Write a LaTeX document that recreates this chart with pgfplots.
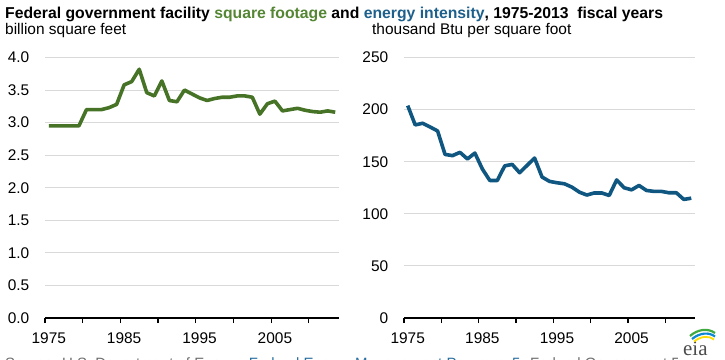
\documentclass[border=0pt]{standalone}
\usepackage{pgfplots}
\pgfplotsset{compat=1.18}
\usepackage{fontspec}
\setmainfont{Liberation Sans}
\setsansfont{Liberation Sans}
\newfontfamily\eiafont{Liberation Serif}
\definecolor{linegreen}{RGB}{70,115,38}
\definecolor{lineblue}{RGB}{15,86,128}
\definecolor{titlegreen}{RGB}{84,134,52}
\definecolor{titleblue}{RGB}{30,96,140}
\definecolor{gridgray}{RGB}{217,217,217}
\definecolor{srcgray}{RGB}{110,110,110}
\definecolor{srcblue}{RGB}{40,110,160}
\pgfplotsset{
  eiastyle/.style={
    scale only axis,
    anchor=south west,
    axis x line*=bottom,
    axis y line*=left,
    y axis line style={draw=none},
    x axis line style={black, line width=1.3bp},
    xmin=1974.5, xmax=2013.5,
    xtick={1975,1985,1995,2005},
    xticklabels={1975,1985,1995,2005},
    major x tick style={draw=none},
    minor xtick={1974.5,1979.5,1984.5,1989.5,1994.5,1999.5,2004.5,2009.5},
    minor tick length=5bp,
    minor x tick style={black, line width=1.3bp},
    tick align=outside,
    ytick style={draw=none},
    ymajorgrids,
    grid style={gridgray, line width=1bp},
    ticklabel style={font=\fontsize{15.5}{18}\selectfont, text=black},
    /pgf/number format/assume math mode=true,
    yticklabel style={xshift=-8bp},
    xticklabel style={yshift=-7bp},
    clip=false,
  }
}
\begin{document}
\begin{tikzpicture}
\useasboundingbox (0bp,0bp) rectangle (725bp,360bp);
% left panel
\begin{axis}[eiastyle,
  at={(45bp,42bp)}, width=294bp, height=260.5bp,
  ymin=0, ymax=4,
  ytick={0,0.5,1,1.5,2,2.5,3,3.5,4},
  yticklabel style={/pgf/number format/.cd, fixed, precision=1, zerofill},
]
\addplot[linegreen, line width=3.6bp, line join=round] coordinates {
(1975,2.95)(1976,2.95)(1977,2.95)(1978,2.95)(1979,2.95)
(1980,3.20)(1981,3.20)(1982,3.20)(1983,3.23)(1984,3.28)
(1985,3.58)(1986,3.63)(1987,3.82)(1988,3.46)(1989,3.41)
(1990,3.64)(1991,3.34)(1992,3.32)(1993,3.50)(1994,3.44)
(1995,3.38)(1996,3.34)(1997,3.37)(1998,3.39)(1999,3.39)
(2000,3.41)(2001,3.41)(2002,3.39)(2003,3.13)(2004,3.29)
(2005,3.33)(2006,3.18)(2007,3.20)(2008,3.22)(2009,3.19)
(2010,3.17)(2011,3.16)(2012,3.18)(2013,3.16)
};
\end{axis}
% right panel
\begin{axis}[eiastyle,
  at={(404bp,42bp)}, width=291bp, height=260.5bp,
  ymin=0, ymax=250,
  ytick={0,50,100,150,200,250},
]
\addplot[lineblue, line width=3.6bp, line join=round] coordinates {
(1975,203.8)(1976,185.3)(1977,186.9)(1978,183.3)(1979,179.5)
(1980,157.0)(1981,155.8)(1982,159.0)(1983,152.6)(1984,158.3)
(1985,143.0)(1986,132.0)(1987,132.0)(1988,146.0)(1989,147.4)
(1990,139.4)(1991,146.5)(1992,153.5)(1993,135.3)(1994,131.1)
(1995,129.8)(1996,128.8)(1997,125.6)(1998,120.8)(1999,118.0)
(2000,120.0)(2001,120.0)(2002,117.6)(2003,132.5)(2004,125.0)
(2005,123.0)(2006,127.2)(2007,122.4)(2008,121.5)(2009,121.5)
(2010,120.2)(2011,120.2)(2012,113.8)(2013,115.0)
};
\end{axis}
% titles
\node[anchor=base west, inner sep=0pt, font=\bfseries\fontsize{15.8}{18}\selectfont] at (5bp,341bp)
  {Federal government facility \textcolor{titlegreen}{square footage} and \textcolor{titleblue}{energy intensity}, 1975-2013\ \ fiscal years};
\node[anchor=base west, inner sep=0pt, font=\fontsize{15.5}{18}\selectfont] at (5bp,325bp) {billion square feet};
\node[anchor=base west, inner sep=0pt, font=\fontsize{15.5}{18}\selectfont] at (372bp,325bp) {thousand Btu per square foot};
% source (cut off at bottom)
\node[anchor=base west, inner sep=0pt, font=\fontsize{15}{18}\selectfont, text=srcgray] at (5bp,-8bp)
  {Source: U.S. Department of Energy, \textcolor{srcblue}{Federal Energy Management Program}, \textcolor{srcblue}{5}. Federal Government Energy Use};
% eia logo
\fill[white] (678bp,0bp) rectangle (725bp,32bp);
\node[anchor=base west, inner sep=0pt, font=\eiafont\fontsize{21}{24}\selectfont, text=black!70] at (683bp,5bp) {eia};
\draw[line width=2.2bp, green!55!black!75] (690bp,24bp) .. controls (698bp,31bp) and (708bp,32bp) .. (715bp,27bp);
\draw[line width=2.2bp, cyan!70!blue] (692bp,21bp) .. controls (700bp,27.5bp) and (709bp,28bp) .. (715bp,23.5bp);
\draw[line width=1.8bp, yellow!80!orange] (694bp,18.5bp) .. controls (701bp,24bp) and (709bp,24.5bp) .. (714bp,20.5bp);
\end{tikzpicture}
\end{document}
